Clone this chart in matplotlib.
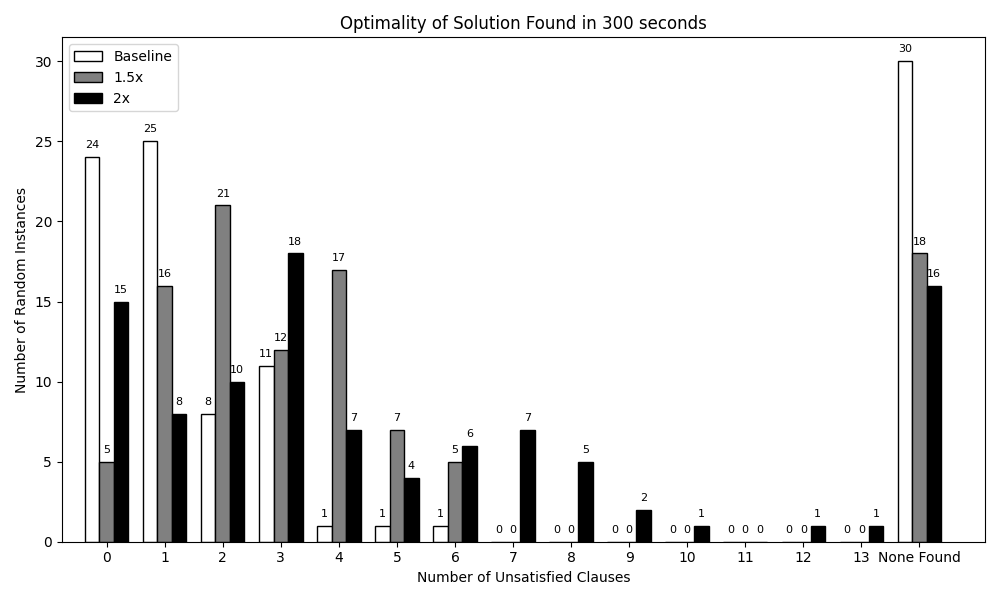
import numpy as np
import matplotlib.pyplot as plt

categories = ['0', '1', '2', '3', '4', '5', '6', '7', '8', '9', '10', '11', '12', '13', 'None Found']
baseline = [24, 25, 8, 11, 1, 1, 1, 0, 0, 0, 0, 0, 0, 0, 30]
x15 = [5, 16, 21, 12, 17, 7, 5, 0, 0, 0, 0, 0, 0, 0, 18]
x2 = [15, 8, 10, 18, 7, 4, 6, 7, 5, 2, 1, 0, 1, 1, 16]

x = np.arange(len(categories))
width = 0.25

fig, ax = plt.subplots(figsize=(10, 6))
b1 = ax.bar(x - width, baseline, width, label='Baseline', color='white', edgecolor='black')
b2 = ax.bar(x, x15, width, label='1.5x', color='gray', edgecolor='black')
b3 = ax.bar(x + width, x2, width, label='2x', color='black', edgecolor='black')

for bars in (b1, b2, b3):
    for rect in bars:
        h = rect.get_height()
        ax.annotate(f'{int(h)}', xy=(rect.get_x() + rect.get_width() / 2, h),
                    xytext=(0, 5), textcoords='offset points',
                    ha='center', va='bottom', fontsize=8)

ax.set_xticks(x)
ax.set_xticklabels(categories)
ax.set_xlim(-0.77, 15.13)
ax.set_xlabel('Number of Unsatisfied Clauses')
ax.set_ylabel('Number of Random Instances')
ax.set_title('Optimality of Solution Found in 300 seconds')
ax.legend(loc='upper left')

plt.tight_layout()
plt.savefig('out.png', dpi=100)
